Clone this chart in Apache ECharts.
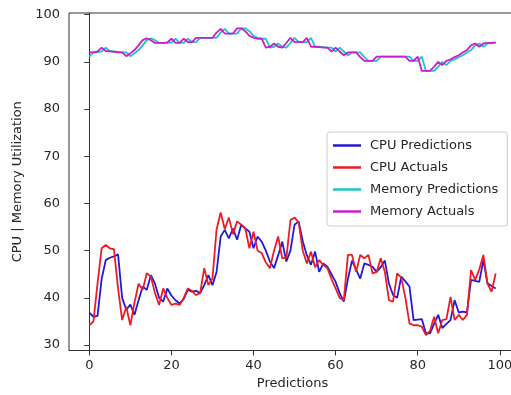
<!DOCTYPE html>
<html>
<head>
<meta charset="utf-8">
<script src="https://cdn.jsdelivr.net/npm/echarts@6/dist/echarts.min.js"></script>
<style>html,body{margin:0;padding:0;background:#fff}#c{width:511px;height:395px}</style>
</head>
<body>
<div id="c"></div>
<script>
const seriesNames = ['CPU Predictions', 'CPU Actuals', 'Memory Predictions', 'Memory Actuals'];
const xTicks = [0, 20, 40, 60, 80, 100];
const yTicks = [30, 40, 50, 60, 70, 80, 90, 100];

const cpuPredictions = [36.9,36,36.2,44,48,48.5,48.8,49.2,40,37.5,
  38.6,36.4,39.5,42.4,41.7,44.8,43,40,39.2,42,
  40.5,39.5,38.8,39.8,41.7,41.3,41.5,41,42.7,44.8,
  42.7,45.5,53,54.4,52.6,54.7,52.3,55.5,54.7,54,
  50.5,53,51.9,50,47.7,46.3,49,51.9,47.7,50,
  55.5,56.2,52,49,47,49.8,45.5,47.3,46.6,45,
  43.4,41,39.2,44,47.9,46,44.1,47.3,47,46.6,
  45.5,46.5,47.9,43,40.6,40,44.5,43.5,42.4,35.3,
  35.4,35.5,32.5,32.5,34.5,36.4,33.6,34.5,35.3,39.5,
  36.9,37.1,36.9,43.8,43.6,43.4,48,43.1,42.5,42];

const cpuActuals = [34.2,35,43,50.5,51.2,50.5,50.3,42,35.3,38.1,
  34.2,39,43,41.7,45.2,44.5,41,38.5,42,40,
  38.5,38.8,38.5,40,42,41.5,40.6,41,46.3,42.7,
  44.1,54.5,58.1,54.6,57,53.5,56.2,55.5,54.7,50.5,
  54,50,49.5,47.5,46.3,50,53,48.4,48.4,56.5,
  57,56,50,47.3,49.8,46.5,48,47,46.3,44,
  42,40,39.5,49.1,49.1,45.5,49.1,48.4,49.1,45.2,
  45.5,48.4,45.5,39.5,39.2,45.2,44.3,40,34.6,34.2,
  34.2,33.9,32.1,33,36,32.5,35.3,35.5,40.2,35.3,
  36.4,35.3,36.4,45.9,43.8,46,49.1,43,41.3,45.2];

const memPredictions = [91.1,92,92,92.2,93,92.3,92.2,92.1,92,92,
  91.2,91.8,92.5,93.5,94.6,95,94.6,94,94,94,
  94.1,94.9,94,94,94.9,94.2,94.2,95.1,95.1,95.1,
  95.1,95.1,96.2,97,96,96,96,97.1,97.1,96.5,
  95.5,95.1,94.9,94.9,93,93.2,93.9,93.2,93,94,
  95.1,94.2,94.2,94.2,95.1,93.2,93.2,93.1,93,93,
  92.2,93,92.2,91.4,92,92,92,91,90.2,90.2,
  90.2,91.1,91.1,91.1,91.1,91.1,91.1,91.1,91.1,90.2,
  90.2,91.1,88.1,88.1,88.1,89,90,89.3,90.2,90.5,
  91,91.4,92,92.5,93.5,93.9,93.2,93.9,94,94];

const memActuals = [92,92,92.2,93,92.3,92.2,92.1,92,92,91.2,
  91.8,92.5,93.5,94.6,95,94.6,94,94,94,94.1,
  94.9,94,94,94.9,94.2,94.2,95.1,95.1,95.1,95.1,
  95.1,96.2,97,96,96,96,97.1,97.1,96.5,95.5,
  95.1,94.9,94.9,93,93.2,93.9,93.2,93,94,95.1,
  94.2,94.2,94.2,95.1,93.2,93.2,93.1,93,93,92.2,
  93,92.2,91.4,92,92,92,91,90.2,90.2,90.2,
  91.1,91.1,91.1,91.1,91.1,91.1,91.1,91.1,90.2,90.2,
  91.1,88.1,88.1,88.1,89,90,89.3,90.2,90.5,91,
  91.4,92,92.5,93.5,93.9,93.2,93.9,94,94,94.1];

const colors = ['#2418d8', '#ec1c24', '#1fc4c8', '#c81ed0'];
const allData = [cpuPredictions, cpuActuals, memPredictions, memActuals];
const textColor = '#262626';
const font = 'DejaVu Sans';

const chart = echarts.init(document.getElementById('c'), null, {renderer: 'canvas'});
chart.setOption({
  animation: false,
  backgroundColor: '#fff',
  grid: {left: 69, top: 13, width: 447, height: 337.5, outerBoundsMode: 'none', containLabel: false,
    show: true, borderColor: '#333', borderWidth: 1, backgroundColor: 'transparent'},
  xAxis: {
    type: 'value', min: -4.95, max: 103.95,
    name: 'Predictions', nameLocation: 'middle', nameGap: 26,
    nameTextStyle: {fontFamily: font, fontSize: 13, color: textColor},
    splitLine: {show: false},
    axisLine: {show: true, lineStyle: {color: '#333', width: 1}},
    axisTick: {show: true, length: 5, lineStyle: {color: '#333'}, customValues: xTicks},
    axisLabel: {fontFamily: font, fontSize: 13, color: textColor, margin: 9, customValues: xTicks}
  },
  yAxis: {
    type: 'value', min: 28.85, max: 100.35,
    name: 'CPU | Memory Utilization', nameLocation: 'middle', nameGap: 44, nameRotate: 90,
    nameTextStyle: {fontFamily: font, fontSize: 13, color: textColor},
    splitLine: {show: false},
    axisLine: {show: true, lineStyle: {color: '#333', width: 1}},
    axisTick: {show: true, length: 5, lineStyle: {color: '#333'}, customValues: yTicks},
    axisLabel: {fontFamily: font, fontSize: 13, color: textColor, margin: 9, customValues: yTicks}
  },
  legend: {
    orient: 'vertical', left: 327, top: 132,
    padding: [7, 9, 8, 6],
    itemWidth: 28, itemHeight: 2.5, itemGap: 9,
    icon: 'rect',
    backgroundColor: 'rgba(255,255,255,0.85)',
    borderColor: '#cccccc', borderWidth: 1, borderRadius: 3,
    textStyle: {fontFamily: font, fontSize: 13, color: textColor, padding: [0, 0, 0, 4]},
    data: seriesNames
  },
  series: seriesNames.map((n, k) => ({
    name: n, type: 'line', symbol: 'none', showSymbol: false,
    color: colors[k],
    lineStyle: {width: 1.8, color: colors[k]},
    data: allData[k].map((v, i) => [i, v])
  }))
});
</script>
</body>
</html>
